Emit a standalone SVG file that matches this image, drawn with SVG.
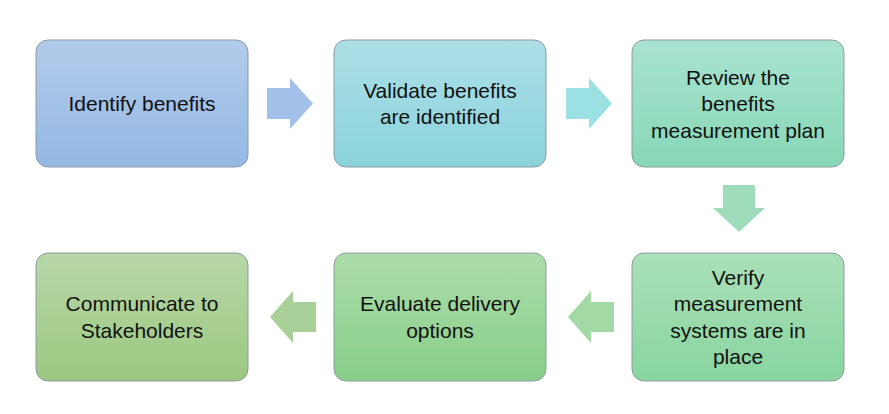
<svg xmlns="http://www.w3.org/2000/svg" width="889" height="414" viewBox="0 0 889 414">
<defs>
<linearGradient id="g1" x1="0" y1="0" x2="0" y2="1"><stop offset="0" stop-color="#b2cbea"/><stop offset="1" stop-color="#94b8e3"/></linearGradient>
<linearGradient id="g2" x1="0" y1="0" x2="0" y2="1"><stop offset="0" stop-color="#acdfe7"/><stop offset="1" stop-color="#8bd3dc"/></linearGradient>
<linearGradient id="g3" x1="0" y1="0" x2="0" y2="1"><stop offset="0" stop-color="#a9e3d0"/><stop offset="1" stop-color="#87d7b6"/></linearGradient>
<linearGradient id="g4" x1="0" y1="0" x2="0" y2="1"><stop offset="0" stop-color="#abe0b8"/><stop offset="1" stop-color="#88d59f"/></linearGradient>
<linearGradient id="g5" x1="0" y1="0" x2="0" y2="1"><stop offset="0" stop-color="#acdcaa"/><stop offset="1" stop-color="#88cf88"/></linearGradient>
<linearGradient id="g6" x1="0" y1="0" x2="0" y2="1"><stop offset="0" stop-color="#b7d7a8"/><stop offset="1" stop-color="#9cc880"/></linearGradient>
</defs>
<style>
.box{stroke:#8e9aa0;stroke-width:1}
.t{font-family:"Liberation Sans",Arial,sans-serif;font-size:21px;fill:#111;text-anchor:middle}
</style>
<g id="connectors">
<polygon points="267,88 290,88 290,78 313,103.5 290,129 290,119 267,119" fill="#a3c1e8"/>
<polygon points="566,88 589,88 589,78 612,103.5 589,129 589,119 566,119" fill="#9be0e2"/>
<polygon points="723,185 755,185 755,208 765,208 739,232 713,208 723,208" fill="#9edcbc"/>
<polygon points="614,302 591,302 591,291 568,317 591,343 591,332 614,332" fill="#a3d9a5"/>
<polygon points="316,302 293,302 293,291 270,317 293,343 293,332 316,332" fill="#aad09a"/>
</g>
<g id="n1">
<rect class="box" x="36" y="40" width="212" height="127" rx="12" fill="url(#g1)"/>
<text class="t" x="142" y="111">Identify benefits</text>
</g>
<g id="n2">
<rect class="box" x="334" y="40" width="212" height="127" rx="12" fill="url(#g2)"/>
<text class="t" x="440" y="97.8">Validate benefits</text>
<text class="t" x="440" y="124.3">are identified</text>
</g>
<g id="n3">
<rect class="box" x="632" y="40" width="212" height="127" rx="12" fill="url(#g3)"/>
<text class="t" x="738" y="84.5">Review the</text>
<text class="t" x="738" y="111">benefits</text>
<text class="t" x="738" y="137.5">measurement plan</text>
</g>
<g id="n4">
<rect class="box" x="632" y="253" width="212" height="128" rx="12" fill="url(#g4)"/>
<text class="t" x="738" y="284.8">Verify</text>
<text class="t" x="738" y="311.3">measurement</text>
<text class="t" x="738" y="337.8">systems are in</text>
<text class="t" x="738" y="364.3">place</text>
</g>
<g id="n5">
<rect class="box" x="334" y="253" width="212" height="128" rx="12" fill="url(#g5)"/>
<text class="t" x="440" y="311.3">Evaluate delivery</text>
<text class="t" x="440" y="337.8">options</text>
</g>
<g id="n6">
<rect class="box" x="36" y="253" width="212" height="128" rx="12" fill="url(#g6)"/>
<text class="t" x="142" y="311.3">Communicate to</text>
<text class="t" x="142" y="337.8">Stakeholders</text>
</g>
</svg>
